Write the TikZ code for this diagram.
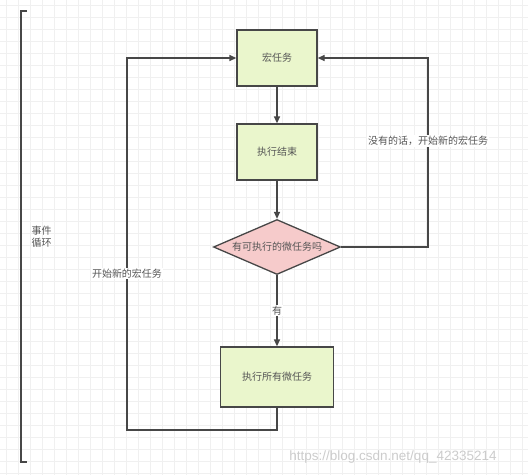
\documentclass[tikz,border=0pt]{standalone}
\usepackage{fontspec}
\setmainfont{Noto Sans CJK SC}
\newfontfamily\urlfont{Liberation Sans}
\usepackage{tikz}
\usetikzlibrary{arrows.meta,shapes.geometric}

\definecolor{taskgreen}{HTML}{EAF6CC}
\definecolor{askpink}{HTML}{F6CBCB}
\definecolor{edgegray}{HTML}{474747}
\definecolor{textgray}{HTML}{555555}

\begin{document}
\begin{tikzpicture}[x=1pt, y=-1pt, font=\fontsize{10pt}{12pt}\selectfont,
    every node/.style = {align=center, text=textgray},
    task/.style = {rectangle, draw=edgegray, line width=1.3pt, fill=taskgreen,
      minimum width=80pt, minimum height=56pt, inner sep=2pt},
    ask/.style = {diamond, aspect=2.3, draw=edgegray, line width=1.3pt, fill=askpink,
      minimum width=127pt, minimum height=55pt, inner sep=0pt},
    edgelabel/.style = {fill=white, inner sep=1pt},
    flow/.style = {draw=edgegray, line width=1.3pt, -{Triangle[length=7pt,width=6pt]}}]
	% background grid
	\useasboundingbox (0,0) rectangle (528,475);
	\fill[white] (0,0) rectangle (528,475);
	\begin{scope}[shift={(6,5)}]
		\draw[gray!12, line width=0.6pt, step=12pt] (-6,-5) grid (522,470);
	\end{scope}
	% event loop bracket
	\draw[edgegray, line width=1.3pt] (27,11) -- (21,11) -- (21,462) -- (27,462);
	\node[anchor=west, align=left, text=textgray] (loop) at (28,237) {事件\\循环};
	% flow
	\node[task] (macro) at (277,58) {宏任务};
	\node[task] (done) at (277,152) {执行结束};
	\node[ask] (micro) at (277,247) {有可执行的微任务吗};
	\node[task, minimum width=113pt, minimum height=60pt] (runall) at (277,377) {执行所有微任务};
	\draw[flow] (macro) -- (done);
	\draw[flow] (done) -- (micro);
	\draw[flow] (micro) -- node[edgelabel] (yes) {有} (runall);
	\draw[flow] (micro.east) -- (428,247) |- node[edgelabel, pos=0.28] (none) {没有的话，开始新的宏任务} (macro.east);
	\draw[flow] (runall.south) -- (277,430) -- (127,430) |- node[edgelabel, pos=0.21] (next) {开始新的宏任务} (macro.west);
	% watermark
	\node[text=gray!40, font=\urlfont\fontsize{13.5pt}{16pt}\selectfont] (mark) at (393,457) {https://blog.csdn.net/qq\_42335214};
\end{tikzpicture}
\end{document}
